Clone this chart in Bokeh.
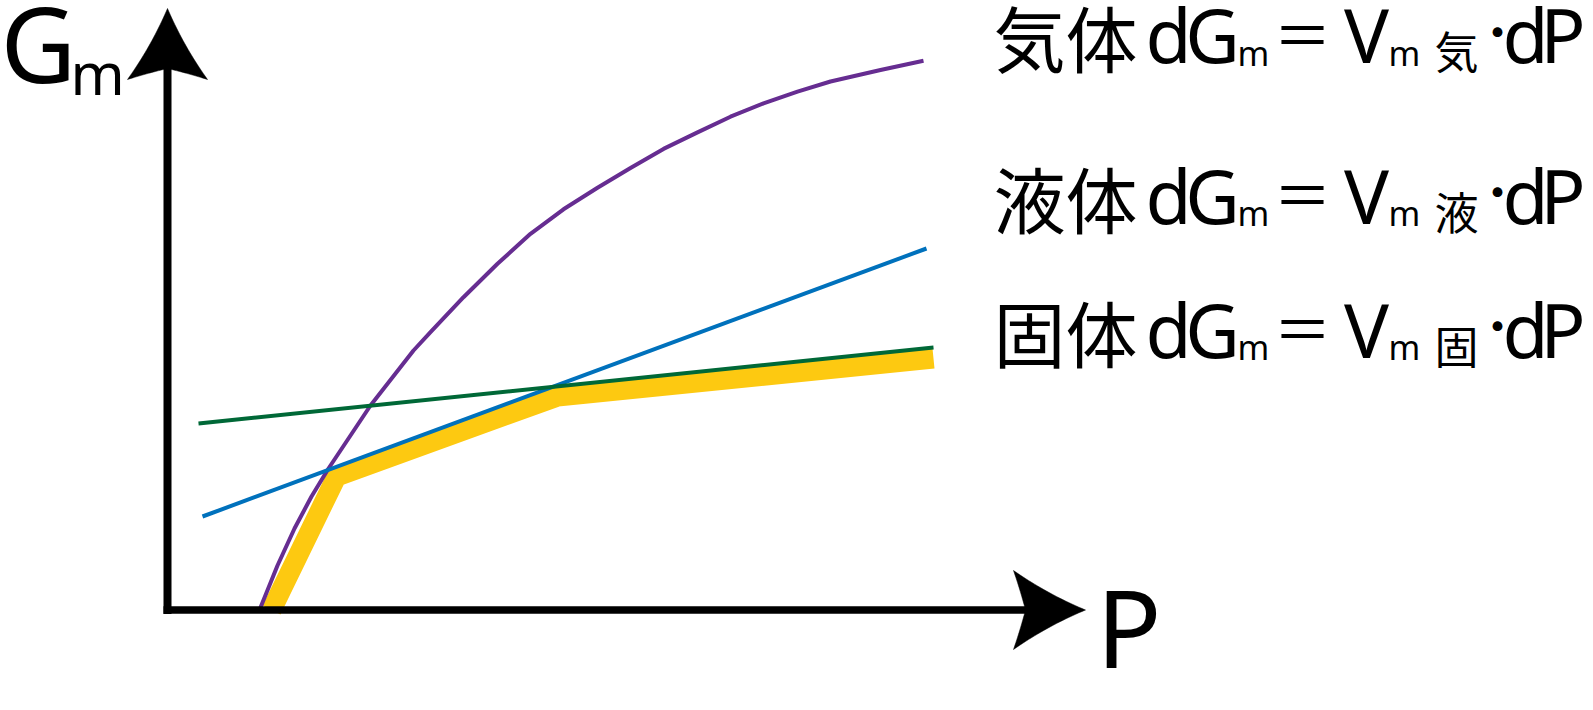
import numpy as np
from bokeh.plotting import figure
from bokeh.models import Range1d
from bokeh.core.properties import value
from bokeh.embed import file_html
from bokeh.resources import INLINE

# ---------------- data (diagram units: P horizontal, Gm vertical) ----------------
gas_P = [0.92, 1.10, 1.27, 1.44, 1.61, 2.03, 2.46, 2.63, 2.96, 3.30, 3.63, 3.96, 4.30,
         4.63, 4.96, 5.30, 5.63, 5.96, 6.30, 6.63, 7.13, 7.56]
gas_G = [0.0, 0.445, 0.815, 1.135, 1.415, 2.045, 2.595, 2.778, 3.128, 3.462, 3.762, 4.007, 4.222,
         4.42, 4.611, 4.776, 4.933, 5.066, 5.183, 5.285, 5.40, 5.492]
liquid_P = [0.35, 7.59]
liquid_G = [0.935, 3.615]
solid_P = [0.31, 7.66]
solid_G = [1.865, 2.625]
stable_P = [1.04, 1.69, 3.90, 7.66]
stable_G = [0.0, 1.335, 2.135, 2.515]

phase_names = ["気体", "液体", "固体"]
phase_subs = ["気", "液", "固"]
axis_labels = ["G", "m", "P"]

# ---------------- layout ----------------
W, H = 1585, 702
SCALE = 100.0            # px per diagram unit
X0, Y0 = 167.0, 609.5    # origin in figure px (from top-left of figure)
K_SHIFT = 0.45           # baseline correction (fraction of font size)

LATIN = "Noto Sans"
CJK = "Noto Sans CJK JP"

p = figure(width=W, height=H, output_backend="svg", toolbar_location=None,
           x_axis_type=None, y_axis_type=None, min_border=0,
           x_range=Range1d(-X0 / SCALE, (W - X0) / SCALE),
           y_range=Range1d(-(H - Y0) / SCALE, Y0 / SCALE))
p.outline_line_color = None
p.background_fill_color = "white"
p.border_fill_color = "white"

# ---------------- curves ----------------
p.line(stable_P, stable_G, line_color="#fdc911", line_width=20,
       line_join="miter", line_cap="butt")
p.line(gas_P, gas_G, line_color="#662d91", line_width=4, line_join="round")
p.line(liquid_P, liquid_G, line_color="#0071bc", line_width=4)
p.line(solid_P, solid_G, line_color="#006837", line_width=4)


# ---------------- axes with stealth arrow heads ----------------
def stealth(tip, direction, length, half, notch, bow=0.022, back_bow=0.008, n=24):
    d = np.array(direction, float)
    d /= np.hypot(*d)
    nrm = np.array([-d[1], d[0]])
    t = np.linspace(0, 1, n)[:, None]

    def quad(a, c, b):
        a, c, b = map(np.array, (a, c, b))
        return (1 - t) ** 2 * a + 2 * (1 - t) * t * c + t ** 2 * b

    pts = []
    for s in (1, -1):
        tipl = np.array([0.0, 0.0])
        wing = np.array([-length, s * half])
        mid = (tipl + wing) / 2
        inward = np.array([-half, -s * length])
        inward /= np.hypot(*inward)
        side = quad(tipl, mid + inward * 2 * bow, wing)
        nt = np.array([-length + notch, 0.0])
        bmid = (wing + nt) / 2 + np.array([back_bow, 0.0])
        back = quad(wing, bmid, nt)
        seg = np.vstack([side, back])
        if s == -1:
            seg = seg[::-1]
        pts.append(seg)
    loc = np.vstack([pts[0], pts[1]])
    xy = np.array(tip) + loc[:, :1] * d + loc[:, 1:2] * nrm
    return xy[:, 0], xy[:, 1]


ytip = (0.0, (Y0 - 8.0) / SCALE)
xtip = (9.18, 0.0)
p.line([0.0, 0.0], [-0.04, 5.45], line_color="black", line_width=8, line_cap="butt")
p.line([-0.04, 8.62], [0.0, 0.0], line_color="black", line_width=7.5, line_cap="butt")
hx, hy = stealth(ytip, (0, 1), 0.71, 0.40, 0.11)
p.patch(hx, hy, fill_color="black", line_color="black", line_width=0.5)
hx, hy = stealth(xtip, (1, 0), 0.72, 0.395, 0.12)
p.patch(hx, hy, fill_color="black", line_color="black", line_width=0.5)


def txt(x, y, s, font, size, align="center"):
    yy = y + K_SHIFT * size / SCALE
    p.text(x=[x], y=[yy], text=[s], text_font=value(font),
           text_font_size=value(f"{size}px"), text_font_style="normal",
           text_align=align, text_baseline="alphabetic", text_color="black")


# axis labels
txt(-X0 / SCALE, 5.21, axis_labels[0], LATIN, 104, align="left")
txt(-0.70, 5.115, axis_labels[1], LATIN, 58)
txt(9.615, -0.655, axis_labels[2], LATIN, 108)

# equations on the right
baselines = [5.42, 3.815, 2.475]
for name, sub, b in zip(phase_names, phase_subs, baselines):
    txt(8.98, b, name, CJK, 72)
    txt(10.01, b, "d", LATIN, 75)
    txt(10.45, b, "G", LATIN, 75)
    txt(10.86, b, "m", LATIN, 34)
    txt(11.35, b + 0.10, "＝", CJK, 58)
    txt(11.99, b, "V", LATIN, 75)
    txt(12.37, b, "m", LATIN, 34)
    txt(12.89, b - 0.02, sub, CJK, 44)
    txt(13.30, b + 0.185, "・", CJK, 46)
    txt(13.58, b, "d", LATIN, 75)
    txt((W - X0) / SCALE, b, "P", LATIN, 75, align="right")

open("out.html", "w").write(file_html(p, INLINE))
